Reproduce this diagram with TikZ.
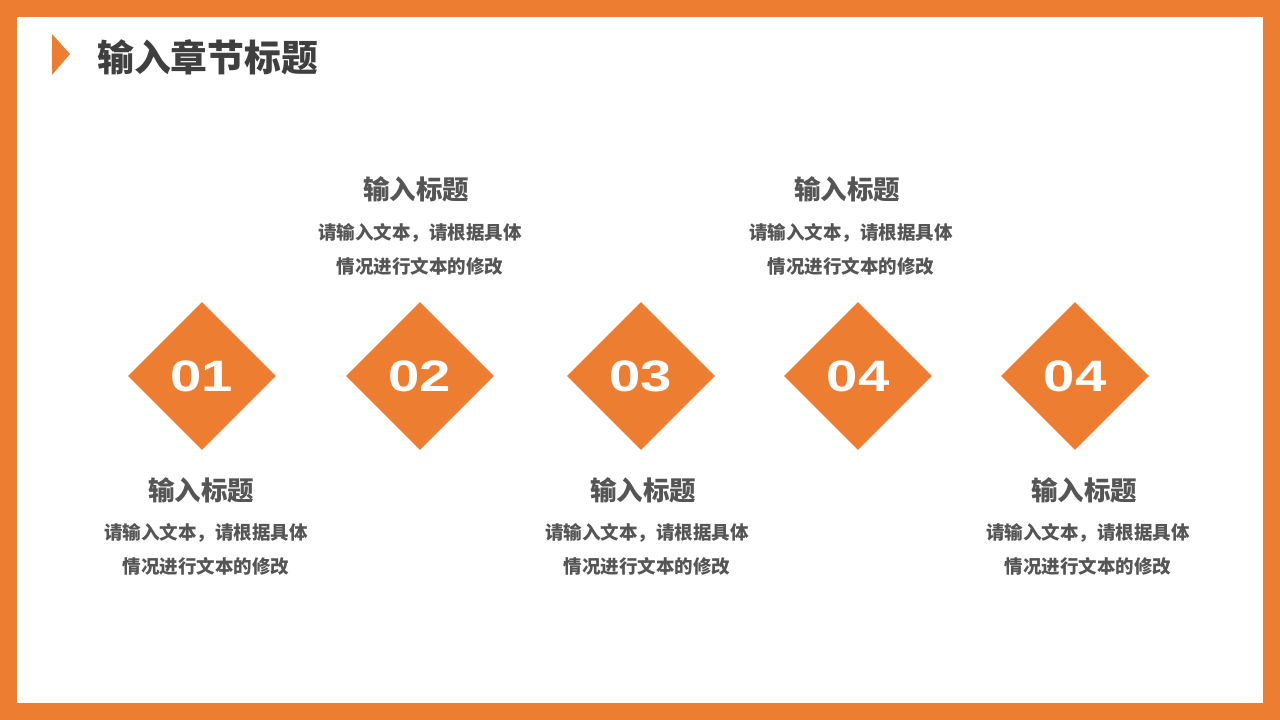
\documentclass[tikz,border=0pt]{standalone}
\usepackage{fontspec}
\usepackage{graphicx}
\usetikzlibrary{shapes.geometric}
\newfontfamily\cjk{Noto Sans CJK SC}
\newfontfamily\numfont{Liberation Sans}
\definecolor{orng}{HTML}{ED7D31}
\definecolor{titlegray}{HTML}{3F3F3F}
\definecolor{textgray}{HTML}{555555}
\newcommand{\numtxt}[1]{\scalebox{1.28}[1.0]{#1}}
\tikzset{
  dia/.style={shape=diamond, fill=orng, minimum width=148pt, minimum height=148pt, inner sep=0pt, text=white, font=\numfont\bfseries\fontsize{44}{44}\selectfont},
  subttl/.style={text=textgray, font=\cjk\bfseries\fontsize{26.5}{30}\selectfont, inner sep=0pt},
  body/.style={text=textgray, font=\cjk\bfseries\fontsize{18.5}{34}\selectfont, align=center, inner sep=0pt},
}
\begin{document}
\begin{tikzpicture}[x=1pt,y=-1pt]
\useasboundingbox (0,0) rectangle (1280,720);
\fill[orng] (0,0) rectangle (1280,720);
\fill[white] (17,17) rectangle (1263,703);
% title
\fill[orng] (52,34) -- (70,54) -- (52,75) -- cycle;
\node[anchor=west, text=titlegray, font=\cjk\bfseries\fontsize{36.8}{40}\selectfont, inner sep=0pt] (title) at (97,57) {输入章节标题};
% diamonds
\node[dia] (d1) at (202,376) {\numtxt{01}};
\node[dia] (d2) at (420,376) {\numtxt{02}};
\node[dia] (d3) at (641,376) {\numtxt{03}};
\node[dia] (d4) at (858,376) {\numtxt{04}};
\node[dia] (d5) at (1075,376) {\numtxt{04}};
% top texts
\node[subttl] (t2) at (416,189) {输入标题};
\node[body] (b2) at (420,249) {请输入文本，请根据具体\\情况进行文本的修改};
\node[subttl] (t4) at (847,189) {输入标题};
\node[body] (b4) at (851,249) {请输入文本，请根据具体\\情况进行文本的修改};
% bottom texts
\node[subttl] (t1) at (201,490) {输入标题};
\node[body] (b1) at (206,549) {请输入文本，请根据具体\\情况进行文本的修改};
\node[subttl] (t3) at (643,490) {输入标题};
\node[body] (b3) at (647,549) {请输入文本，请根据具体\\情况进行文本的修改};
\node[subttl] (t5) at (1084,490) {输入标题};
\node[body] (b5) at (1088,549) {请输入文本，请根据具体\\情况进行文本的修改};
\end{tikzpicture}
\end{document}
